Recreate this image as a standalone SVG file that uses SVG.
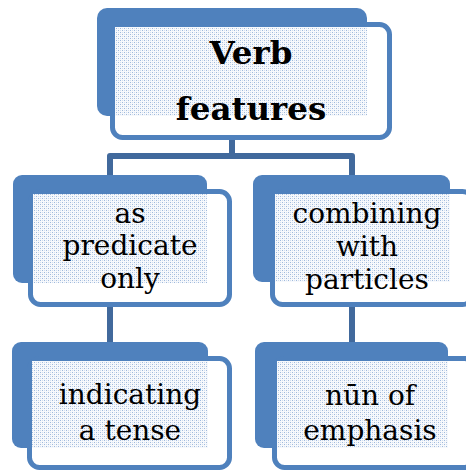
<svg xmlns="http://www.w3.org/2000/svg" width="466" height="473" viewBox="0 0 466 473">
<style>
.back{fill:#4f81bd;}
.front{fill:#ffffff;stroke:#4f81bd;stroke-width:5;}
.pat{fill:url(#dots);}
.conn{fill:none;stroke:#41699c;stroke-width:6;stroke-linejoin:round;}
.t{font-family:"DejaVu Serif","Liberation Serif",serif;font-size:28px;fill:#000;text-anchor:middle;}
.tb{font-family:"DejaVu Serif","Liberation Serif",serif;font-size:32.5px;font-weight:bold;fill:#000;text-anchor:middle;}
</style>
<defs>
<pattern id="dots" width="4" height="4" patternUnits="userSpaceOnUse">
<rect width="4" height="4" fill="#f7f9fc"/>
<rect x="0" y="0" width="1" height="1" fill="#9fb9dc"/>
<rect x="2" y="2" width="1" height="1" fill="#9fb9dc"/>
<rect x="2" y="0" width="1" height="1" fill="#d3dfef"/>
<rect x="0" y="2" width="1" height="1" fill="#d3dfef"/>
</pattern>
</defs>
<g id="connectors">
<path class="conn" d="M232,140 V156"/>
<path class="conn" d="M110,175 V156 H352 V175"/>
<path class="conn" d="M110,307 V342"/>
<path class="conn" d="M352,307 V342"/>
</g>
<g id="node-verb-features">
<rect class="back" x="97" y="8" width="270" height="108" rx="10"/>
<rect class="front" x="112.5" y="24.5" width="277" height="113" rx="10"/>
<rect class="pat" x="115" y="27" width="252" height="89"/>
<text class="tb" x="251" y="64">Verb</text>
<text class="tb" x="251" y="120">features</text>
</g>
<g id="node-predicate">
<rect class="back" x="13" y="175" width="194" height="108" rx="9"/>
<rect class="front" x="30.5" y="191.5" width="199" height="113" rx="10"/>
<rect class="pat" x="33" y="194" width="174" height="89"/>
<text class="t" x="130" y="223">as</text>
<text class="t" x="130" y="255">predicate</text>
<text class="t" x="130" y="288">only</text>
</g>
<g id="node-particles">
<rect class="back" x="253" y="175" width="197" height="107" rx="9"/>
<rect class="front" x="272.5" y="191.5" width="200" height="113" rx="10"/>
<rect class="pat" x="275" y="194" width="175" height="88"/>
<text class="t" x="367" y="223">combining</text>
<text class="t" x="367" y="256">with</text>
<text class="t" x="367" y="289">particles</text>
</g>
<g id="node-tense">
<rect class="back" x="12" y="342" width="196" height="106" rx="9"/>
<rect class="front" x="29.5" y="358.5" width="200" height="109" rx="10"/>
<rect class="pat" x="32" y="361" width="176" height="87"/>
<text class="t" x="130" y="404">indicating</text>
<text class="t" x="130" y="440">a tense</text>
</g>
<g id="node-emphasis">
<rect class="back" x="255" y="342" width="193" height="106" rx="9"/>
<rect class="front" x="274.5" y="358.5" width="200" height="109" rx="10"/>
<rect class="pat" x="277" y="361" width="171" height="87"/>
<text class="t" x="370" y="405">nūn of</text>
<text class="t" x="370" y="440">emphasis</text>
</g>
</svg>
